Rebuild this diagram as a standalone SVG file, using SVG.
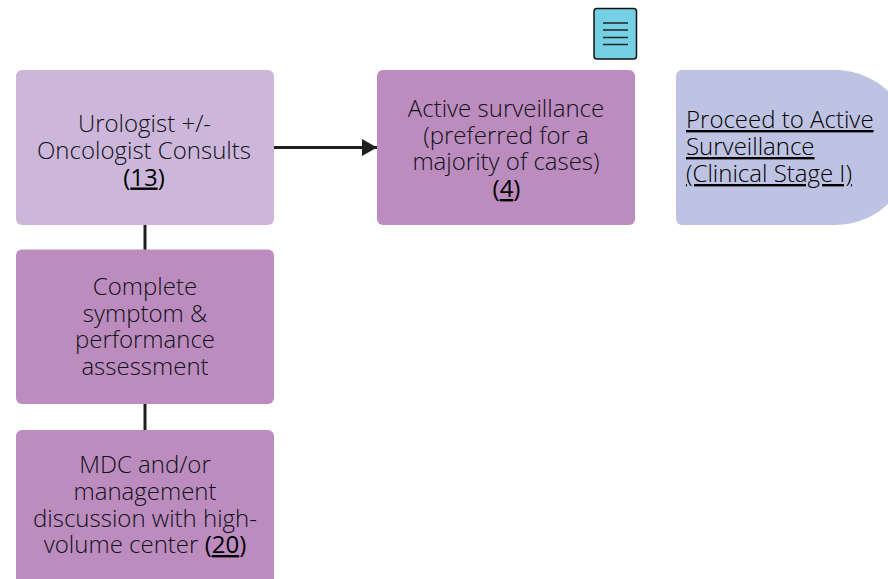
<svg xmlns="http://www.w3.org/2000/svg" width="888" height="579" viewBox="0 0 888 579">
<style>
text{font-family:"Open Sans","Noto Sans","Liberation Sans",sans-serif;font-size:24px;font-weight:300;fill:#101018}
.c{text-anchor:middle}
.r{font-weight:400;fill:#000}
.u{text-decoration:underline}
.k{fill:#000}
.line{stroke:#1f1f1f;stroke-width:3;fill:none}
</style>
<defs><marker id="arrow" markerUnits="userSpaceOnUse" markerWidth="16" markerHeight="18" refX="15" refY="8.500" orient="auto"><path d="M0 0L15 8.500L0 17Z" fill="#1f1f1f"/></marker></defs>
<g id="connectors">
<path class="line" d="M274 147.500H377" marker-end="url(#arrow)"/>
<path class="line" d="M145 225V250"/>
<path class="line" d="M145 404V430"/>
</g>
<g id="node-urologist">
<rect x="16" y="70" width="258" height="155" rx="6" fill="#ccb7da"/>
<text class="c" x="144.500" y="132">Urologist +/-</text>
<text class="c" x="144" y="158.500">Oncologist Consults</text>
<text class="c r" x="144" y="185.500">(<tspan class="u">13</tspan>)</text>
</g>
<g id="node-surveillance">
<rect x="377" y="70" width="258" height="155" rx="6" fill="#bc8cbf"/>
<text class="c" x="506" y="116.500">Active surveillance</text>
<text class="c" x="506" y="143.500">(preferred for a</text>
<text class="c" x="506" y="170">majority of cases)</text>
<text class="c r" x="506.500" y="197">(<tspan class="u">4</tspan>)</text>
</g>
<g id="node-doc">
<rect x="594" y="8.500" width="42.500" height="50.500" rx="3" fill="#74d1e4" stroke="#111" stroke-width="1.500"/>
<path d="M603 23H628M603 30H628M603 37.500H628M603 44.500H628" stroke="#222" stroke-width="1.500" fill="none"/>
</g>
<g id="node-proceed">
<path d="M682 70H835A77.500 77.500 0 0 1 835 225H682A6 6 0 0 1 676 219V76A6 6 0 0 1 682 70Z" fill="#bec3e3"/>
<text class="u k" x="686" y="128">Proceed to Active</text>
<text class="u k" x="686" y="155">Surveillance</text>
<text class="u k" x="686" y="182">(Clinical Stage I)</text>
</g>
<g id="node-assessment">
<rect x="16" y="249.500" width="258" height="154.500" rx="6" fill="#bc8cbf"/>
<text class="c" x="145" y="295">Complete</text>
<text class="c" x="145" y="321.500">symptom &amp;</text>
<text class="c" x="145" y="348">performance</text>
<text class="c" x="145" y="375">assessment</text>
</g>
<g id="node-mdc">
<rect x="16" y="430" width="258" height="155" rx="6" fill="#bc8cbf"/>
<text class="c" x="145" y="473">MDC and/or</text>
<text class="c" x="145" y="500">management</text>
<text class="c" x="145" y="527">discussion with high-</text>
<text class="c" x="145" y="553">volume center <tspan class="r">(<tspan class="u">20</tspan>)</tspan></text>
</g>
</svg>
